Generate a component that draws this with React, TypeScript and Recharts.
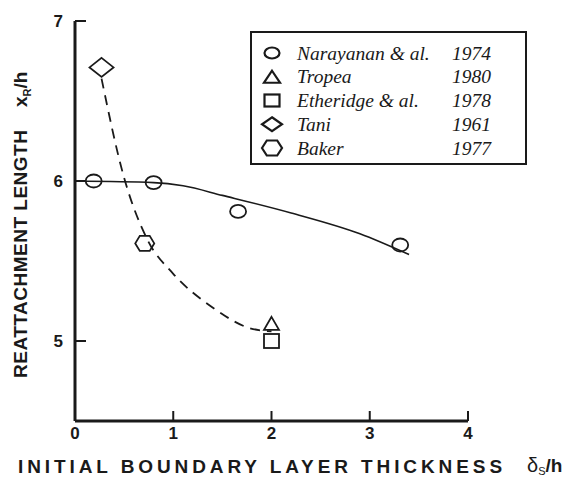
import React from 'react';
import { ComposedChart, Line, Scatter, XAxis, YAxis, Legend } from 'recharts';

const xTicks = [0, 1, 2, 3, 4];
const yTicks = [5, 6, 7];

const narayanan = [
  { x: 0.19, y: 6.0 },
  { x: 0.8, y: 5.99 },
  { x: 1.66, y: 5.81 },
  { x: 3.31, y: 5.6 },
];
const tropea = [{ x: 2.0, y: 5.11 }];
const etheridge = [{ x: 2.0, y: 5.0 }];
const tani = [{ x: 0.27, y: 6.71 }];
const baker = [{ x: 0.71, y: 5.61 }];

const solidFit = [
  { x: 0.0, y: 6.0 },
  { x: 0.8, y: 5.99 },
  { x: 1.1, y: 5.97 },
  { x: 1.5, y: 5.91 },
  { x: 2.2, y: 5.8 },
  { x: 2.9, y: 5.67 },
  { x: 3.4, y: 5.54 },
];
const dashedFit = [
  { x: 0.27, y: 6.64 },
  { x: 0.5, y: 6.02 },
  { x: 0.74, y: 5.63 },
  { x: 1.0, y: 5.42 },
  { x: 1.4, y: 5.21 },
  { x: 1.78, y: 5.08 },
  { x: 2.0, y: 5.06 },
];

const legendNames = ['Narayanan & al.', 'Tropea', 'Etheridge & al.', 'Tani', 'Baker'];
const legendYears = ['1974', '1980', '1978', '1961', '1977'];
const legendShapes = ['circle', 'triangle', 'square', 'diamond', 'hexagon'];

const INK = '#1a1a1a';
const SANS = "'Liberation Sans', Arial, sans-serif";
const SERIF = "'Liberation Serif', 'DejaVu Serif', serif";

const sansBold = (size: number, extra: any = {}) => ({
  fontFamily: SANS,
  fontWeight: 700,
  fontSize: size,
  ...extra,
});

function marker(kind: string, cx: number, cy: number, big: boolean, sw: number) {
  const common = { fill: 'none', stroke: INK, strokeWidth: sw };
  if (kind === 'circle') {
    return <ellipse cx={cx} cy={cy} rx={big ? 8 : 7.5} ry={big ? 6.5 : 5.5} {...common} />;
  }
  if (kind === 'triangle') {
    const w = big ? 7.5 : 8;
    const h = big ? 6.5 : 6;
    return <polygon points={`${cx},${cy - h} ${cx + w},${cy + h} ${cx - w},${cy + h}`} {...common} />;
  }
  if (kind === 'square') {
    const w = 7.5;
    const h = big ? 7 : 6;
    return <rect x={cx - w} y={cy - h} width={2 * w} height={2 * h} {...common} />;
  }
  if (kind === 'diamond') {
    const w = big ? 12 : 10;
    const h = big ? 9.5 : 7;
    return <polygon points={`${cx},${cy - h} ${cx + w},${cy} ${cx},${cy + h} ${cx - w},${cy}`} {...common} />;
  }
  const w = big ? 9.5 : 10;
  const h = 7.5;
  const s = w * 0.52;
  return (
    <polygon
      points={`${cx - w},${cy} ${cx - s},${cy - h} ${cx + s},${cy - h} ${cx + w},${cy} ${cx + s},${cy + h} ${cx - s},${cy + h}`}
      {...common}
    />
  );
}

const makeShape = (kind: string) => (props: any) => {
  const { cx, cy } = props;
  if (cx == null || cy == null) return <g />;
  return marker(kind, cx, cy, true, 1.8);
};

const XTick = (props: any) => {
  const { x, y, payload } = props;
  const v = payload.value;
  return (
    <g>
      {v !== 0 && <line x1={x} x2={x} y1={y} y2={y - 10} stroke={INK} strokeWidth={2} />}
      <text x={x} y={y + 18} textAnchor="middle" style={sansBold(17)} fill={INK}>
        {v}
      </text>
    </g>
  );
};

const YTick = (props: any) => {
  const { x, y, payload } = props;
  const v = payload.value;
  return (
    <g>
      <line x1={x} x2={x + 11} y1={y} y2={y} stroke={INK} strokeWidth={2} />
      <text x={x - 12} y={y + 6} textAnchor="end" style={sansBold(17)} fill={INK}>
        {v}
      </text>
    </g>
  );
};

const LegendBox = () => {
  const rowY = [22, 45.75, 69.5, 93.25, 117];
  const serifStyle = { fontFamily: SERIF, fontStyle: 'italic', fontSize: 19.5 };
  return (
    <div
      style={{
        position: 'relative',
        width: 277,
        height: 134,
        border: `2px solid ${INK}`,
        boxSizing: 'border-box',
        background: '#fff',
      }}
    >
      <svg width={277} height={134} style={{ position: 'absolute', left: -2, top: -2 }}>
        {legendShapes.map((k, i) => (
          <g key={k}>{marker(k, 22, rowY[i], false, 2.2)}</g>
        ))}
        {legendNames.map((n, i) => (
          <text key={n} x={47} y={rowY[i] + 6.5} style={serifStyle} fill={INK}>
            {n}
          </text>
        ))}
        {legendYears.map((n, i) => (
          <text key={n + i} x={202} y={rowY[i] + 6.5} style={serifStyle} fill={INK}>
            {n}
          </text>
        ))}
      </svg>
    </div>
  );
};

export default function App() {
  return (
    <div style={{ position: 'absolute', left: 0, top: 0, width: 579, height: 477, background: '#fff' }}>
      <ComposedChart width={579} height={477} margin={{ top: 21, right: 111, bottom: 0, left: 0 }}>
        <XAxis
          type="number"
          dataKey="x"
          domain={[0, 4]}
          ticks={xTicks}
          interval={0}
          allowDataOverflow
          height={56}
          tickSize={0}
          tickMargin={0}
          tickLine={false}
          tick={<XTick />}
          axisLine={{ stroke: INK, strokeWidth: 3 }}
        />
        <YAxis
          type="number"
          dataKey="y"
          domain={[4.5, 7]}
          ticks={yTicks}
          interval={0}
          allowDataOverflow
          width={75}
          tickSize={0}
          tickMargin={0}
          tickLine={false}
          tick={<YTick />}
          axisLine={{ stroke: INK, strokeWidth: 3 }}
        />
        <Legend
          layout="horizontal"
          verticalAlign="middle"
          align="center"
          content={() => <LegendBox />}
          wrapperStyle={{ position: 'absolute', left: 250, top: 31, width: 277, height: 134 }}
        />
        <Line
          data={solidFit}
          dataKey="y"
          type="monotone"
          stroke={INK}
          strokeWidth={1.6}
          dot={false}
          activeDot={false}
          isAnimationActive={false}
          legendType="none"
        />
        <Line
          data={dashedFit}
          dataKey="y"
          type="monotone"
          stroke={INK}
          strokeWidth={1.8}
          strokeDasharray="10 7"
          dot={false}
          activeDot={false}
          isAnimationActive={false}
          legendType="none"
        />
        <Scatter data={narayanan} dataKey="y" shape={makeShape('circle')} isAnimationActive={false} />
        <Scatter data={tropea} dataKey="y" shape={makeShape('triangle')} isAnimationActive={false} />
        <Scatter data={etheridge} dataKey="y" shape={makeShape('square')} isAnimationActive={false} />
        <Scatter data={tani} dataKey="y" shape={makeShape('diamond')} isAnimationActive={false} />
        <Scatter data={baker} dataKey="y" shape={makeShape('hexagon')} isAnimationActive={false} />
        <text x={18} y={473} style={sansBold(19, { letterSpacing: 3.9 })} fill={INK}>
          INITIAL BOUNDARY LAYER THICKNESS
        </text>
        <text x={527} y={472} style={{ fontFamily: SANS, fontSize: 20 }} fill={INK}>
          δ
          <tspan style={{ fontSize: 11 }} dy={3}>S</tspan>
          <tspan dy={-3} style={{ fontWeight: 700, fontSize: 19 }}>/h</tspan>
        </text>
        <text x={27} y={378} transform="rotate(-90 27 378)" style={sansBold(19, { letterSpacing: 0.5 })} fill={INK}>
          REATTACHMENT LENGTH
        </text>
        <text x={27} y={107} transform="rotate(-90 27 107)" style={sansBold(19)} fill={INK}>
          x
          <tspan style={{ fontSize: 11 }} dy={4}>R</tspan>
          <tspan dy={-4}>/h</tspan>
        </text>
      </ComposedChart>
    </div>
  );
}
